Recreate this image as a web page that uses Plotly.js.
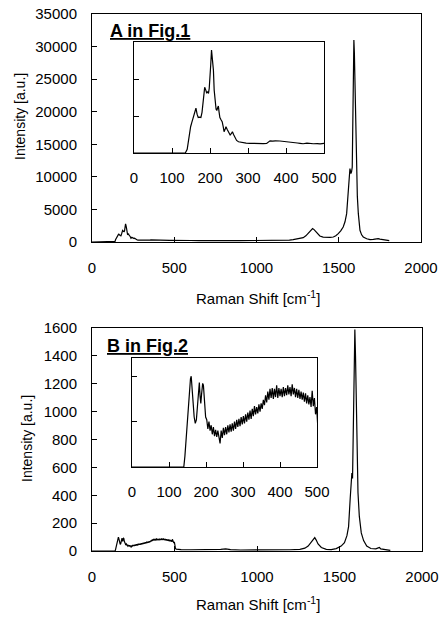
<!DOCTYPE html>
<html>
<head>
<meta charset="utf-8">
<script src="https://cdn.plot.ly/plotly-3.0.1.min.js"></script>
<style>html,body{margin:0;padding:0;background:#fff;}#chart{width:441px;height:619px;}</style>
</head>
<body>
<div id="chart"></div>
<script>
// Spectrum A (Fig.1)
const shiftA = [0,135,140,143,146,149,152,156,160,163,166,169,172,176,179,181,184,186,189,191,194,196,198,200,202,204,206,209,211,214,216,218,220,222,224,226,229,232,235,237,240,242,245,248,250,253,256,259,262,266,270,275,280,288,295,305,315,325,332,340,349,353,358,365,372,384,395,405,411,420,430,437,445,455,465,472,482,490,500,520,560,600,650,700,720,800,850,900,950,1000,1100,1150,1200,1223,1260,1284,1300,1314,1330,1341,1350,1361,1373,1385,1405,1426,1447,1467,1482,1497,1512,1527,1538,1548,1553,1558,1563,1568,1574,1578,1582,1586,1590,1592,1595,1600,1604,1608,1613,1619,1624,1629,1639,1649,1670,1690,1710,1720,1730,1740,1750,1771,1790,1807];
const intensityA = [0,0,100,350,520,710,820,940,1120,1210,1050,960,970,960,1100,1340,1600,1775,1700,1630,1650,1610,1750,1970,2400,2780,2600,2240,1700,1250,1180,1160,1220,1270,1100,960,900,845,700,575,650,710,640,575,520,485,520,575,500,395,340,305,290,280,265,260,255,250,250,255,260,300,330,320,330,325,315,310,305,290,270,260,250,265,245,250,255,245,260,250,240,230,220,240,210,200,215,200,210,200,210,230,300,360,500,670,950,1280,1800,2050,1900,1540,1200,920,740,670,700,770,950,1280,1700,2300,3100,4350,6000,8450,10200,11270,10500,10800,11500,20000,29000,31000,29000,22800,16000,10500,7000,4350,2800,1800,1100,770,500,360,400,460,520,510,450,360,280,200];

// Spectrum B (Fig.2)
const shiftB = [0,140,143,146,149,152,155,158,160,162,165,168,171,174,177,180,182,184,186,188,191,193,196,199,202,205,208,211,214,217,220,223,226,229,232,235,238,241,244,247,250,253,256,259,262,265,268,271,274,277,280,283,286,289,292,295,298,301,304,307,310,313,316,319,322,325,328,331,334,337,340,343,346,349,352,355,358,361,364,367,370,373,376,379,382,385,388,391,394,397,400,403,406,409,412,415,418,421,424,427,430,433,436,439,442,445,448,451,454,457,460,463,466,469,472,475,478,481,484,487,490,493,496,499,501,503,506,510,520,540,600,700,780,810,840,900,1000,1100,1200,1260,1290,1310,1330,1345,1350,1358,1370,1390,1420,1450,1480,1510,1530,1545,1555,1565,1571,1575,1579,1584,1589,1593,1597,1601,1606,1612,1620,1632,1646,1665,1690,1720,1735,1742,1750,1770,1790,1808];
const intensityB = [0,0,12,30,50,68,85,97,100,92,72,55,48,52,70,90,93,78,70,80,92,90,70,55,52,42,50,40,46,36,44,34,41,33,40,31,26,40,32,43,35,44,36,46,38,47,39,48,40,50,42,52,44,53,45,55,47,56,48,58,50,60,52,62,53,64,56,67,58,66,59,69,61,70,64,74,68,79,71,83,74,86,76,87,75,86,77,90,76,87,78,86,77,88,78,87,79,90,80,88,78,91,80,87,77,86,76,85,75,83,74,82,72,81,70,79,69,77,66,84,67,76,58,66,50,30,18,14,12,10,9,8,12,15,10,7,6,7,9,12,20,35,65,93,96,80,50,25,12,10,17,35,60,110,175,380,500,560,520,1000,1450,1590,1400,1080,720,420,250,130,75,35,18,16,22,25,15,10,7,5];

const mainTicksX = [0,500,1000,1500,2000];
const insetTicksX = [0,100,200,300,400,500];

const W = 441, H = 619;
const px = v => v / W;
const py = v => 1 - v / H;
const FONT = 'Arial, "Liberation Sans", sans-serif';

const line = {color: '#000', width: 1.2};
const traces = [
  {x: shiftA, y: intensityA, xaxis: 'x', yaxis: 'y', type: 'scatter', mode: 'lines', line: line, hoverinfo: 'skip'},
  {x: shiftA, y: intensityA, xaxis: 'x2', yaxis: 'y2', type: 'scatter', mode: 'lines', line: line, hoverinfo: 'skip'},
  {x: shiftB, y: intensityB, xaxis: 'x3', yaxis: 'y3', type: 'scatter', mode: 'lines', line: line, hoverinfo: 'skip'},
  {x: shiftB, y: intensityB, xaxis: 'x4', yaxis: 'y4', type: 'scatter', mode: 'lines', line: line, hoverinfo: 'skip'}
];

function ax(extra) {
  return Object.assign({
    showline: true, mirror: true, linecolor: '#000', linewidth: 1,
    showgrid: false, zeroline: false, ticks: 'inside', ticklen: 5,
    tickcolor: '#000', tickwidth: 1, tickfont: {family: FONT, size: 15, color: '#000'},
    tickformat: 'd', fixedrange: true
  }, extra);
}

const layout = {
  width: W, height: H,
  margin: {l: 0, r: 0, t: 0, b: 0},
  paper_bgcolor: '#fff', plot_bgcolor: '#fff',
  showlegend: false,
  xaxis: ax({domain: [px(92), px(421)], range: [0, 2000], tickvals: mainTicksX, anchor: 'y', ticklabelstandoff: 12}),
  yaxis: ax({domain: [py(242), py(14)], range: [0, 35000], dtick: 5000, anchor: 'x', ticklabelstandoff: 11}),
  xaxis2: ax({domain: [px(134), px(324)], range: [0, 500], tickvals: insetTicksX, anchor: 'y2', ticklabelstandoff: 11}),
  yaxis2: ax({domain: [py(153), py(42)], range: [0, 3000], dtick: 1000, anchor: 'x2', showticklabels: false}),
  xaxis3: ax({domain: [px(92), px(422)], range: [0, 2000], tickvals: mainTicksX, anchor: 'y3', ticklabelstandoff: 12}),
  yaxis3: ax({domain: [py(551), py(328)], range: [0, 1600], dtick: 200, anchor: 'x3', ticklabelstandoff: 11}),
  xaxis4: ax({domain: [px(132), px(317)], range: [0, 500], tickvals: insetTicksX, anchor: 'y4', ticklabelstandoff: 11}),
  yaxis4: ax({domain: [py(467), py(358)], range: [0, 120], dtick: 50, anchor: 'x4', showticklabels: false}),
  annotations: [
    {text: '<b><u>A in Fig.1</u></b>', xref: 'paper', yref: 'paper', x: px(108), y: py(31), xanchor: 'left', yanchor: 'middle', showarrow: false, font: {family: FONT, size: 18, color: '#000'}},
    {text: '<b><u>B in Fig.2</u></b>', xref: 'paper', yref: 'paper', x: px(105), y: py(346), xanchor: 'left', yanchor: 'middle', showarrow: false, font: {family: FONT, size: 18, color: '#000'}},
    {text: 'Raman Shift [cm<sup>-1</sup>]', xref: 'paper', yref: 'paper', x: px(258), y: py(297), xanchor: 'center', yanchor: 'middle', showarrow: false, font: {family: FONT, size: 15, color: '#000'}},
    {text: 'Raman Shift [cm<sup>-1</sup>]', xref: 'paper', yref: 'paper', x: px(258), y: py(603), xanchor: 'center', yanchor: 'middle', showarrow: false, font: {family: FONT, size: 15, color: '#000'}},
    {text: 'Intensity [a.u.]', xref: 'paper', yref: 'paper', x: px(20), y: py(117), xanchor: 'center', yanchor: 'middle', textangle: -90, showarrow: false, font: {family: FONT, size: 14, color: '#000'}},
    {text: 'Intensity [a.u.]', xref: 'paper', yref: 'paper', x: px(27), y: py(439), xanchor: 'center', yanchor: 'middle', textangle: -90, showarrow: false, font: {family: FONT, size: 14, color: '#000'}}
  ]
};

Plotly.newPlot('chart', traces, layout, {staticPlot: true, displayModeBar: false});
</script>
</body>
</html>
